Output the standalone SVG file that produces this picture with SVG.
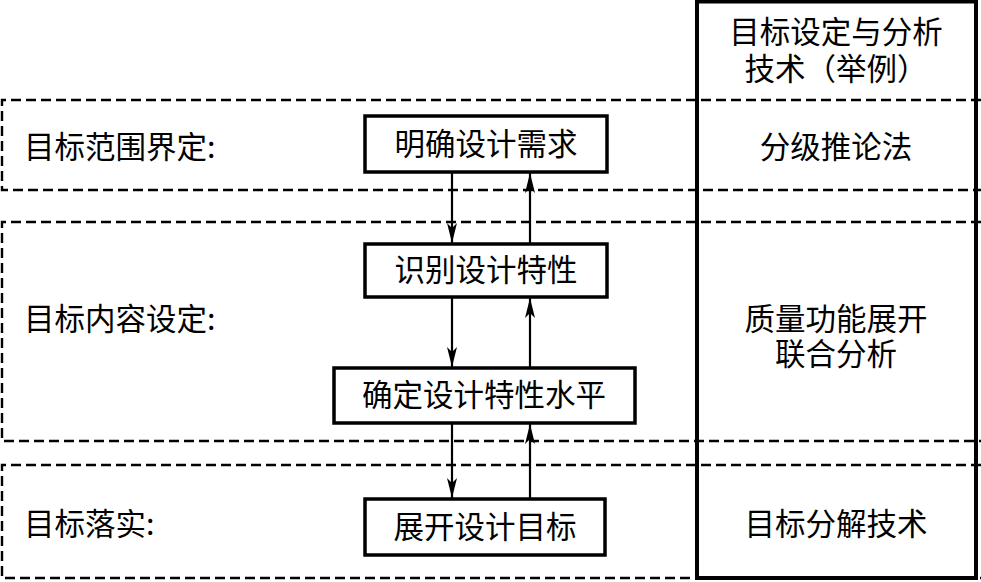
<svg xmlns="http://www.w3.org/2000/svg" width="981" height="582" viewBox="0 0 981 582">
<style>
.t{font-family:"Noto Sans CJK SC","Noto Sans",sans-serif;font-size:30.5px;fill:#000}
.m{text-anchor:middle}
.box{fill:#fff;stroke:#000;stroke-width:3.5}
.dash{fill:none;stroke:#000;stroke-width:2.4;stroke-dasharray:10 5}
.arr{stroke:#000;stroke-width:2.2;fill:none;marker-end:url(#ah)}
</style>
<defs>
<marker id="ah" viewBox="0 0 20 10" refX="20" refY="5" markerWidth="20" markerHeight="10" markerUnits="userSpaceOnUse" orient="auto">
<path d="M0,0 L20,5 L0,10 L5,5 Z" fill="#000"/>
</marker>
</defs>
<rect width="981" height="582" fill="#fff"/>
<g id="bands">
<path class="dash" d="M981,100 H2 V190 H981"/>
<path class="dash" d="M981,222 H2 V441 H981"/>
<path class="dash" d="M981,465 H2 V578 H981"/>
</g>
<g id="technique-column">
<rect x="697" y="1.5" width="279" height="576.5" fill="none" stroke="#000" stroke-width="4"/>
<text class="t m" x="836" y="43">目标设定与分析<tspan x="836" dy="37">技术（举例）</tspan></text>
</g>
<g id="label-scope"><text class="t" x="24" y="158">目标范围界定:</text></g>
<g id="label-content"><text class="t" x="24" y="330">目标内容设定:</text></g>
<g id="label-implement"><text class="t" x="24" y="535">目标落实:</text></g>
<g id="tech-1"><text class="t m" x="836" y="158">分级推论法</text></g>
<g id="tech-2"><text class="t m" x="836" y="330">质量功能展开<tspan x="836" dy="35">联合分析</tspan></text></g>
<g id="tech-3"><text class="t m" x="836" y="535">目标分解技术</text></g>
<g id="connectors">
<line class="arr" x1="452" y1="172" x2="452" y2="243"/>
<line class="arr" x1="530" y1="243" x2="530" y2="173"/>
<line class="arr" x1="452" y1="297" x2="452" y2="367"/>
<line class="arr" x1="530" y1="367" x2="530" y2="298"/>
<line class="arr" x1="452" y1="423" x2="452" y2="498"/>
<line class="arr" x1="530" y1="498" x2="530" y2="424"/>
</g>
<g id="node-1"><rect class="box" x="365" y="116" width="242" height="56"/><text class="t m" x="486" y="155">明确设计需求</text></g>
<g id="node-2"><rect class="box" x="365" y="244" width="242" height="53"/><text class="t m" x="486" y="281">识别设计特性</text></g>
<g id="node-3"><rect class="box" x="334" y="368" width="301" height="55"/><text class="t m" x="484" y="406">确定设计特性水平</text></g>
<g id="node-4"><rect class="box" x="365" y="499" width="240" height="56"/><text class="t m" x="485" y="538">展开设计目标</text></g>
</svg>
